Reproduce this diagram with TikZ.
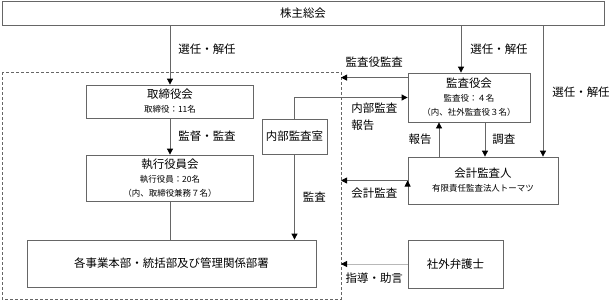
\documentclass[tikz,border=0pt]{standalone}
\usepackage{fontspec}
\setmainfont{Noto Sans CJK JP}
\usetikzlibrary{arrows.meta, positioning}

\definecolor{linegray}{gray}{0.4}
\definecolor{softgray}{gray}{0.72}
\newcommand{\subtxt}[1]{{\fontsize{8.5}{11}\selectfont #1}}

\begin{document}
\begin{tikzpicture}[
        x = 1bp, y = -1bp,
        >= {Triangle[width = 6bp, length = 6bp, color = black]},
        font = \fontsize{11.5}{14}\selectfont,
        line width = 0.8bp,
        box/.style = {draw = linegray, align = center, inner sep = 2bp},
        lbl/.style = {inner sep = 0pt, align = left},
        frame/.style = {draw = linegray, dash pattern = on 3bp off 2bp}
    ]
    \useasboundingbox (0,0) rectangle (612,300);

    % group frame
    \coordinate (grpNW) at (2,72);
    \coordinate (grpSE) at (341,299);
    \draw[frame] (grpNW) rectangle (grpSE);

    \node[box, minimum width = 602bp, minimum height = 24bp] (agm) at (303,13) {株主総会};
    \node[box, minimum width = 167bp, minimum height = 33bp] (board) at (170,101.5)
        {取締役会\\\subtxt{取締役：11名}};
    \node[box, minimum width = 167bp, minimum height = 46bp] (exec) at (170,178)
        {執行役員会\\\subtxt{執行役員：20名}\\\subtxt{（内、取締役兼務７名）}};
    \node[box, minimum width = 289bp, minimum height = 47bp] (depts) at (171.5,263.5)
        {各事業本部・統括部及び管理関係部署};
    \node[box, minimum width = 65bp, minimum height = 35bp] (iaudit) at (294.5,136.5) {内部監査室};
    \node[box, minimum width = 122bp, minimum height = 49bp] (kansa) at (469,97.5)
        {監査役会\\\subtxt{監査役：４名}\\\subtxt{（内、社外監査役３名）}};
    \node[box, minimum width = 150bp, minimum height = 47bp] (kaikei) at (483,180.5)
        {会計監査人\\\subtxt{有限責任監査法人トーマツ}};
    \node[box, minimum width = 95bp, minimum height = 48bp] (lawyer) at (455.5,264) {社外弁護士};

    \path[->, draw = linegray]
        (agm.south -| board.north) edge node [lbl, right, xshift = 8bp, pos = 0.4] {選任・解任} (board.north)
        ([xshift = -8bp]kansa.north |- agm.south) edge node [lbl, right, xshift = 9bp] {選任・解任} ([xshift = -8bp]kansa.north)
        ([xshift = 60bp]kaikei.north |- agm.south) edge node [lbl, right, xshift = 9bp, pos = 0.51] {選任・解任} ([xshift = 60bp]kaikei.north)
        (board) edge node [lbl, right, xshift = 8bp] {監督・監査} (exec)
        (iaudit) edge node [lbl, right, xshift = 8bp] {監査} (iaudit.south |- depts.north)
        ([xshift = -44bp]kaikei.north) edge node [lbl, left, xshift = -7bp] {報告} ([xshift = -44bp]kaikei.north |- kansa.south)
        ([xshift = 16bp]kansa.south) edge node [lbl, right, xshift = 7bp] {調査} ([xshift = 16bp]kansa.south |- kaikei.north)
        ([yshift = -5bp]kansa.north west) edge node [lbl, above, yshift = 10bp] {監査役監査} ([yshift = -5bp]kansa.north west -| grpSE)
        (kaikei.west) edge node [lbl, below, yshift = -6.5bp] {会計監査} (kaikei.west -| grpSE);

    \draw[->, draw = softgray] (lawyer.west) -- node [lbl, below, yshift = -8.5bp] {指導・助言} (lawyer.west -| grpSE);
    \draw[->, draw = linegray] (iaudit.north) |- node [lbl, pos = 0.75, anchor = north west, yshift = -5bp]
        {内部監査\\[3bp]報告} (kansa.west);
    \draw[draw = linegray] (exec.south) -- (exec.south |- depts.north);
\end{tikzpicture}
\end{document}
